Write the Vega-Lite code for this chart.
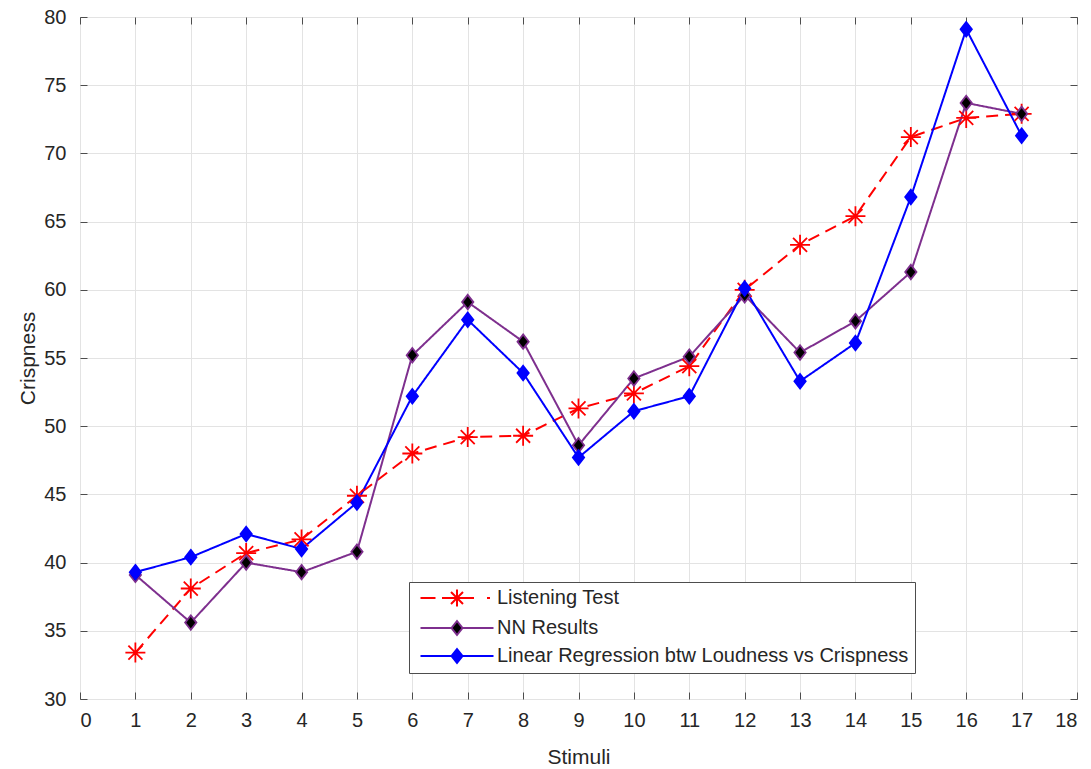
{
  "$schema": "https://vega.github.io/schema/vega-lite/v6.json",
  "width": 997,
  "height": 682,
  "autosize": {"type": "none"},
  "padding": {"left": 80, "top": 17, "right": 14, "bottom": 70},
  "background": "white",
  "config": {
    "font": "Liberation Sans",
    "view": {"stroke": "#4d4d4d", "strokeWidth": 1},
    "axis": {
      "labelFont": "Liberation Sans",
      "titleFont": "Liberation Sans",
      "labelFontSize": 20,
      "titleFontSize": 21,
      "titleFontWeight": "normal",
      "labelColor": "#262626",
      "titleColor": "#262626",
      "gridColor": "#e3e3e3",
      "gridWidth": 1,
      "tickColor": "#4d4d4d",
      "domainColor": "#4d4d4d"
    }
  },
  "data": {
    "values": [
      {"stimulus": 1, "series": "Listening Test", "value": 33.4},
      {"stimulus": 2, "series": "Listening Test", "value": 38.1},
      {"stimulus": 3, "series": "Listening Test", "value": 40.7},
      {"stimulus": 4, "series": "Listening Test", "value": 41.7},
      {"stimulus": 5, "series": "Listening Test", "value": 44.9},
      {"stimulus": 6, "series": "Listening Test", "value": 48.0},
      {"stimulus": 7, "series": "Listening Test", "value": 49.2},
      {"stimulus": 8, "series": "Listening Test", "value": 49.3},
      {"stimulus": 9, "series": "Listening Test", "value": 51.3},
      {"stimulus": 10, "series": "Listening Test", "value": 52.4},
      {"stimulus": 11, "series": "Listening Test", "value": 54.4},
      {"stimulus": 12, "series": "Listening Test", "value": 60.0},
      {"stimulus": 13, "series": "Listening Test", "value": 63.3},
      {"stimulus": 14, "series": "Listening Test", "value": 65.4},
      {"stimulus": 15, "series": "Listening Test", "value": 71.2},
      {"stimulus": 16, "series": "Listening Test", "value": 72.6},
      {"stimulus": 17, "series": "Listening Test", "value": 72.9},
      {"stimulus": 1, "series": "NN Results", "value": 39.1},
      {"stimulus": 2, "series": "NN Results", "value": 35.6},
      {"stimulus": 3, "series": "NN Results", "value": 40.0},
      {"stimulus": 4, "series": "NN Results", "value": 39.3},
      {"stimulus": 5, "series": "NN Results", "value": 40.8},
      {"stimulus": 6, "series": "NN Results", "value": 55.2},
      {"stimulus": 7, "series": "NN Results", "value": 59.1},
      {"stimulus": 8, "series": "NN Results", "value": 56.2},
      {"stimulus": 9, "series": "NN Results", "value": 48.6},
      {"stimulus": 10, "series": "NN Results", "value": 53.5},
      {"stimulus": 11, "series": "NN Results", "value": 55.1},
      {"stimulus": 12, "series": "NN Results", "value": 59.6},
      {"stimulus": 13, "series": "NN Results", "value": 55.4},
      {"stimulus": 14, "series": "NN Results", "value": 57.7},
      {"stimulus": 15, "series": "NN Results", "value": 61.3},
      {"stimulus": 16, "series": "NN Results", "value": 73.7},
      {"stimulus": 17, "series": "NN Results", "value": 72.9},
      {"stimulus": 1, "series": "Linear Regression btw Loudness vs Crispness", "value": 39.3},
      {"stimulus": 2, "series": "Linear Regression btw Loudness vs Crispness", "value": 40.4},
      {"stimulus": 3, "series": "Linear Regression btw Loudness vs Crispness", "value": 42.1},
      {"stimulus": 4, "series": "Linear Regression btw Loudness vs Crispness", "value": 41.0},
      {"stimulus": 5, "series": "Linear Regression btw Loudness vs Crispness", "value": 44.4},
      {"stimulus": 6, "series": "Linear Regression btw Loudness vs Crispness", "value": 52.2},
      {"stimulus": 7, "series": "Linear Regression btw Loudness vs Crispness", "value": 57.8},
      {"stimulus": 8, "series": "Linear Regression btw Loudness vs Crispness", "value": 53.9},
      {"stimulus": 9, "series": "Linear Regression btw Loudness vs Crispness", "value": 47.7},
      {"stimulus": 10, "series": "Linear Regression btw Loudness vs Crispness", "value": 51.1},
      {"stimulus": 11, "series": "Linear Regression btw Loudness vs Crispness", "value": 52.2},
      {"stimulus": 12, "series": "Linear Regression btw Loudness vs Crispness", "value": 60.1},
      {"stimulus": 13, "series": "Linear Regression btw Loudness vs Crispness", "value": 53.3},
      {"stimulus": 14, "series": "Linear Regression btw Loudness vs Crispness", "value": 56.1},
      {"stimulus": 15, "series": "Linear Regression btw Loudness vs Crispness", "value": 66.8},
      {"stimulus": 16, "series": "Linear Regression btw Loudness vs Crispness", "value": 79.1},
      {"stimulus": 17, "series": "Linear Regression btw Loudness vs Crispness", "value": 71.3}
    ]
  },
  "layer": [
    {
      "mark": {"type": "line", "strokeWidth": 2, "clip": true},
      "encoding": {
        "x": {
          "field": "stimulus", "type": "quantitative",
          "scale": {"domain": [0, 18], "nice": false},
          "axis": {
            "orient": "bottom", "title": "Stimuli",
            "values": [0,1,2,3,4,5,6,7,8,9,10,11,12,13,14,15,16,17,18],
            "grid": true, "tickSize": -7, "labelPadding": 18, "titlePadding": 16,
            "domain": false
          }
        },
        "y": {
          "field": "value", "type": "quantitative",
          "scale": {"domain": [30, 80], "nice": false, "zero": false},
          "axis": {
            "orient": "left", "title": "Crispness",
            "values": [30,35,40,45,50,55,60,65,70,75,80],
            "grid": true, "tickSize": -7, "labelPadding": 21, "titlePadding": 5,
            "domain": false
          }
        },
        "color": {
          "field": "series", "type": "nominal",
          "sort": ["Listening Test", "NN Results", "Linear Regression btw Loudness vs Crispness"],
          "scale": {
            "domain": ["Listening Test", "NN Results", "Linear Regression btw Loudness vs Crispness"],
            "range": ["#ff0000", "#7e2f8e", "#0000ff"]
          },
          "legend": {
            "title": null,
            "orient": "none",
            "legendX": 329,
            "legendY": 565,
            "direction": "vertical",
            "fillColor": "white",
            "strokeColor": "#4d4d4d",
            "padding": 6,
            "symbolSize": 100,
            "symbolOffset": 32,
            "labelOffset": 30,
            "labelFontSize": 20,
            "labelFont": "Liberation Sans",
            "labelColor": "#262626",
            "labelLimit": 600,
            "rowPadding": 6,
            "encode": {
              "symbols": {
                "update": {
                  "shape": {"signal": "datum.value === 'Listening Test' ? 'M-7.3,0L-4.3,0M-3,0L3.4,0M6,0L6.6,0M-1.7,0L1.7,0M0,-1.7L0,1.7M-1.2,-1.2L1.2,1.2M-1.2,1.2L1.2,-1.2' : 'M-7.3,0L-1.1,0M1.1,0L7.3,0M0,-1.4L1.1,0L0,1.4L-1.1,0Z'"},
                  "fill": {"signal": "datum.value === 'Listening Test' ? 'transparent' : (datum.value === 'NN Results' ? '#000000' : '#0000ff')"},
                  "stroke": {"signal": "datum.value === 'Listening Test' ? '#ff0000' : (datum.value === 'NN Results' ? '#7e2f8e' : '#0000ff')"},
                  "strokeWidth": {"value": 2},
                  "strokeDash": {"value": []},
                  "opacity": {"value": 1}
                }
              }
            }
          }
        },
        "strokeDash": {
          "condition": {"test": "datum.series === 'Listening Test'", "value": [12, 7]},
          "value": [1, 0]
        },
        "order": {"field": "stimulus", "type": "quantitative"}
      }
    },
    {
      "mark": {"type": "point", "strokeWidth": 1.8, "opacity": 1, "filled": false},
      "encoding": {
        "x": {
          "field": "stimulus", "type": "quantitative",
          "axis": {
            "orient": "top", "title": null, "labels": false, "grid": false,
            "values": [0,1,2,3,4,5,6,7,8,9,10,11,12,13,14,15,16,17,18],
            "tickSize": -7, "domain": false
          }
        },
        "y": {
          "field": "value", "type": "quantitative",
          "axis": {
            "orient": "right", "title": null, "labels": false, "grid": false,
            "values": [30,35,40,45,50,55,60,65,70,75,80],
            "tickSize": -7, "domain": false
          }
        },
        "shape": {
          "condition": {"test": "datum.series === 'Listening Test'", "value": "M-1,0L1,0M0,-1L0,1M-0.7,-0.7L0.7,0.7M-0.7,0.7L0.7,-0.7"},
          "value": "M0,-1L0.78,0L0,1L-0.78,0Z"
        },
        "size": {
          "condition": {"test": "datum.series === 'Listening Test'", "value": 400},
          "value": 210
        },
        "fill": {
          "condition": [
            {"test": "datum.series === 'Listening Test'", "value": "transparent"},
            {"test": "datum.series === 'NN Results'", "value": "#000000"}
          ],
          "value": "#0000ff"
        },
        "stroke": {
          "condition": [
            {"test": "datum.series === 'Listening Test'", "value": "#ff0000"},
            {"test": "datum.series === 'NN Results'", "value": "#7e2f8e"}
          ],
          "value": "#0000ff"
        }
      }
    }
  ],
  "resolve": {"axis": {"x": "independent", "y": "independent"}}
}
